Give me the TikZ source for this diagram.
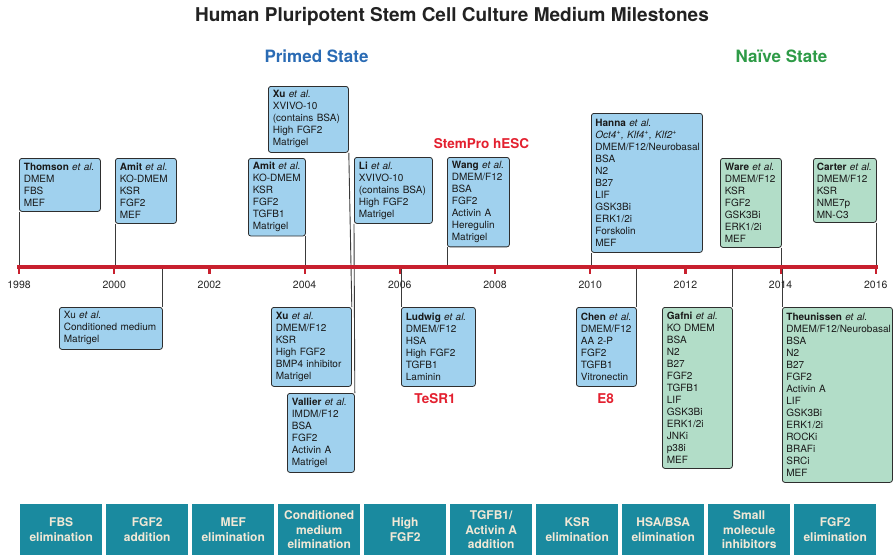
\documentclass[tikz,border=0pt]{standalone}
\usepackage{fontspec}
\setmainfont{TeX Gyre Heros}
\definecolor{pfill}{HTML}{A0D1EE}
\definecolor{nfill}{HTML}{B2DDC8}
\definecolor{boxline}{HTML}{2E2E2E}
\definecolor{connline}{HTML}{3A3A3A}
\definecolor{tlred}{HTML}{C8202E}
\definecolor{medred}{HTML}{E3202F}
\definecolor{primedblue}{HTML}{2A6BB4}
\definecolor{naivegreen}{HTML}{2E9B47}
\definecolor{teal1}{HTML}{1A8A9F}
\definecolor{cream}{HTML}{F1E8D6}
\definecolor{titlegray}{HTML}{222222}
\begin{document}
\begin{tikzpicture}[x=1pt,y=-1pt,
  mbox/.style={draw=boxline, line width=0.8pt, rounded corners=2.5pt, inner xsep=4.5pt, inner ysep=4pt, align=left, anchor=north west, font=\fontsize{10}{12}\selectfont, text=black!90},
  pbox/.style={mbox, fill=pfill},
  nbox/.style={mbox, fill=nfill},
  conn/.style={draw=connline, line width=0.9pt},
  yearlbl/.style={font=\fontsize{10.5}{12}\selectfont, text=black!85},
  medlbl/.style={font=\bfseries\fontsize{13.5}{15}\selectfont, text=medred},
  statelbl/.style={font=\bfseries\fontsize{17}{19}\selectfont},
  bar/.style={fill=teal1, text=cream, font=\bfseries\fontsize{12}{14.5}\selectfont, align=center, minimum width=82pt, minimum height=51pt, inner sep=0pt, anchor=north west}
]
\path[use as bounding box] (0,0) rectangle (893,555);

% titles
\node[font=\bfseries\fontsize{19}{22}\selectfont, text=titlegray] (title) at (452,16) {Human Pluripotent Stem Cell Culture Medium Milestones};
\node[statelbl, text=primedblue] (primed) at (316.5,56) {Primed State};
\node[statelbl, text=naivegreen] (naive) at (781.5,56) {Naïve State};

% timeline reference
\coordinate (tl) at (0,267);

% boxes above
\node[pbox, text width=72pt, minimum height=53pt] (thomson) at (19,158) {\textbf{Thomson} \textit{et al.}\\DMEM\\FBS\\MEF};
\node[pbox, text width=52pt, minimum height=65pt] (amitA) at (115,158) {\textbf{Amit} \textit{et al.}\\KO-DMEM\\KSR\\FGF2\\MEF};
\node[pbox, text width=48pt, minimum height=77pt] (amitB) at (248,158) {\textbf{Amit} \textit{et al.}\\KO-DMEM\\KSR\\FGF2\\TGFB1\\Matrigel};
\node[pbox, text width=71pt, minimum height=66pt] (xutop) at (268,86) {\textbf{Xu} \textit{et al.}\\XVIVO-10\\(contains BSA)\\High FGF2\\Matrigel};
\node[pbox, text width=69pt, minimum height=66pt] (li) at (354,157) {\textbf{Li} \textit{et al.}\\XVIVO-10\\(contains BSA)\\High FGF2\\Matrigel};
\node[pbox, text width=53pt, minimum height=89pt] (wang) at (447,157) {\textbf{Wang} \textit{et al.}\\DMEM/F12\\BSA\\FGF2\\Activin A\\Heregulin\\Matrigel};
\node[pbox, inner xsep=4pt, text width=103pt, minimum height=139pt] (hanna) at (591,113) {\textbf{Hanna} \textit{et al.}\\\textit{Oct4\textsuperscript{+}, Klf4\textsuperscript{+}, Klf2\textsuperscript{+}}\\DMEM/F12/Neurobasal\\BSA\\N2\\B27\\LIF\\GSK3Bi\\ERK1/2i\\Forskolin\\MEF};
\node[nbox, text width=52pt, minimum height=89pt] (ware) at (720,158) {\textbf{Ware} \textit{et al.}\\DMEM/F12\\KSR\\FGF2\\GSK3Bi\\ERK1/2i\\MEF};
\node[nbox, inner xsep=3.5pt, text width=56pt, minimum height=64pt] (carter) at (813,158) {\textbf{Carter} \textit{et al.}\\DMEM/F12\\KSR\\NME7p\\MN-C3};

% boxes below
\node[pbox, text width=94pt, minimum height=42pt] (xub) at (59,307) {Xu \textit{et al.}\\Conditioned medium\\Matrigel};
\node[pbox, text width=71pt, minimum height=79pt] (xuc) at (271,307) {\textbf{Xu} \textit{et al.}\\DMEM/F12\\KSR\\High FGF2\\BMP4 inhibitor\\Matrigel};
\node[pbox, text width=58pt, minimum height=79pt] (vallier) at (287,393) {\textbf{Vallier} \textit{et al.}\\IMDM/F12\\BSA\\FGF2\\Activin A\\Matrigel};
\node[pbox, text width=65pt, minimum height=79pt] (ludwig) at (401,307) {\textbf{Ludwig} \textit{et al.}\\DMEM/F12\\HSA\\High FGF2\\TGFB1\\Laminin};
\node[pbox, text width=51pt, minimum height=79pt] (chen) at (576,307) {\textbf{Chen} \textit{et al.}\\DMEM/F12\\AA 2-P\\FGF2\\TGFB1\\Vitronectin};
\node[nbox, text width=61pt, minimum height=161pt] (gafni) at (662,307) {\textbf{Gafni} \textit{et al.}\\KO DMEM\\BSA\\N2\\B27\\FGF2\\TGFB1\\LIF\\GSK3Bi\\ERK1/2i\\JNKi\\p38i\\MEF};
\node[nbox, inner xsep=4pt, text width=102pt, minimum height=175pt] (theunissen) at (782,307) {\textbf{Theunissen} \textit{et al.}\\DMEM/F12/Neurobasal\\BSA\\N2\\B27\\FGF2\\Activin A\\LIF\\GSK3Bi\\ERK1/2i\\ROCKi\\BRAFi\\SRCi\\MEF};

% medium labels
\node[medlbl] (stempro) at (481.5,144) {StemPro hESC};
\node[medlbl] (tesr) at (435,399) {TeSR1};
\node[medlbl] (e8) at (605.5,399) {E8};

% connectors
\draw[conn] (thomson.south west) -- (thomson.south west |- tl);
\draw[conn] (amitA.south west) -- (amitA.south west |- tl);
\draw[conn] (amitB.south east) -- (amitB.south east |- tl);
\draw[conn] (xutop.south east) -- (xuc.north east);
\draw[conn] (li.south west) -- (vallier.north east);
\draw[conn] (wang.south west) -- (wang.south west |- tl);
\draw[conn] (hanna.south west) -- (hanna.south west |- tl);
\draw[conn] (ware.south east) -- (ware.south east |- tl);
\draw[conn] (carter.south east) -- (carter.south east |- tl);
\draw[conn] (xub.north east) -- (xub.north east |- tl);
\draw[conn] (ludwig.north west) -- (ludwig.north west |- tl);
\draw[conn] (chen.north east) -- (chen.north east |- tl);
\draw[conn] (gafni.north east) -- (gafni.north east |- tl);
\draw[conn] (theunissen.north west) -- (theunissen.north west |- tl);

% timeline
\draw[tlred, line width=4pt] (17,267) -- (878,267);
\foreach \yr in {1998,2000,...,2016} {
  \draw[tlred, line width=2.2pt] ({19+(\yr-1998)*47.6},267) -- ++(0,6.5);
  \node[yearlbl] (yr\yr) at ({19+(\yr-1998)*47.6},285) {\yr};
}

% bottom bar
\node[bar] (b0) at (20,504) {FBS\\elimination};
\node[bar] (b1) at (106,504) {FGF2\\addition};
\node[bar] (b2) at (192,504) {MEF\\elimination};
\node[bar] (b3) at (278,504) {Conditioned\\medium\\elimination};
\node[bar] (b4) at (364,504) {High\\FGF2};
\node[bar] (b5) at (450,504) {TGFB1/\\Activin A\\addition};
\node[bar] (b6) at (536,504) {KSR\\elimination};
\node[bar] (b7) at (622,504) {HSA/BSA\\elimination};
\node[bar] (b8) at (708,504) {Small\\molecule\\inhibitors};
\node[bar] (b9) at (794,504) {FGF2\\elimination};
\end{tikzpicture}
\end{document}
